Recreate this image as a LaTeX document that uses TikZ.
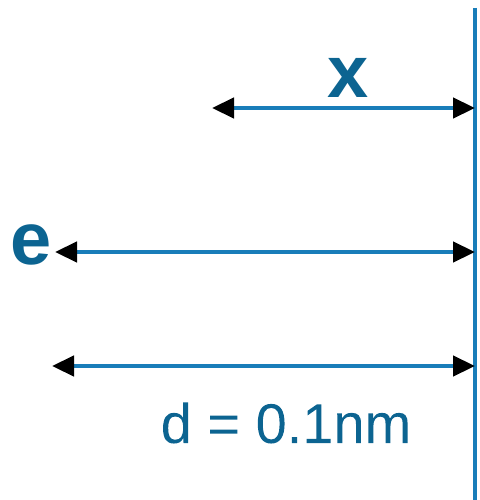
\documentclass[tikz,border=0pt]{standalone}
\usepackage{fontspec}
\setmainfont{Liberation Sans}
\usetikzlibrary{arrows.meta}
\definecolor{txtblue}{RGB}{12,100,145}
\definecolor{lineblue}{RGB}{25,125,185}
\tikzset{
  dimline/.style={draw=lineblue, line width=4.5pt, {Triangle[length=22pt,width=20pt,color=black]}-{Triangle[length=22pt,width=20pt,color=black]}},
  wall/.style={draw=lineblue, line width=4.5pt},
  biglabel/.style={text=txtblue, font=\fontsize{74}{74}\selectfont\bfseries, inner sep=0pt},
  dimlabel/.style={text=txtblue, font=\fontsize{56}{56}\selectfont, inner sep=0pt}
}
\begin{document}
\begin{tikzpicture}[x=1pt,y=-1pt]
\useasboundingbox (0,0) rectangle (479,500);
\coordinate (wtop) at (475,8);
\coordinate (wbot) at (475,500);
\coordinate (a1) at (212,108);
\coordinate (b1) at (475,108);
\coordinate (a2) at (55,252);
\coordinate (b2) at (475,252);
\coordinate (a3) at (52,366);
\coordinate (b3) at (475,366);
\draw[wall] (wtop) -- (wbot);
\draw[dimline] (a1) -- (b1);
\draw[dimline] (a2) -- (b2);
\draw[dimline] (a3) -- (b3);
\node[biglabel] (lx) at (348,78) {x};
\node[biglabel] (le) at (31,245) {e};
\node[dimlabel, anchor=base, draw=txtblue, draw opacity=0] (ld) at (286,443) {\addfontfeatures{FakeBold=0.6}d = 0.1nm};
\end{tikzpicture}
\end{document}
